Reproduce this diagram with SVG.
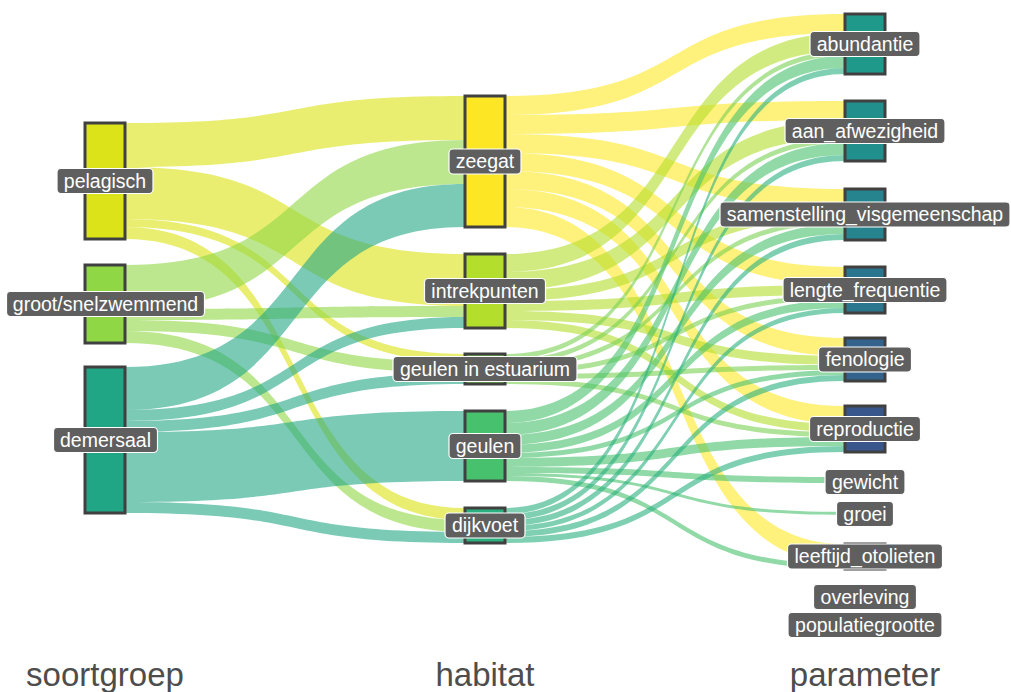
<svg xmlns="http://www.w3.org/2000/svg" width="1011" height="692" viewBox="0 0 1011 692">
<style>
.n{stroke:#404040;stroke-width:3}
.lb rect{fill:#5F5F5F;stroke:#fff;stroke-width:1.2}
.lb text{fill:#fff;font-family:"Liberation Sans",Arial,sans-serif;font-size:19.5px;text-anchor:middle}
.ax{fill:#4D4D4D;font-family:"Liberation Sans",Arial,sans-serif;font-size:33px;text-anchor:middle}
.fp{fill:#DCE319;fill-opacity:.62}
.fg{fill:#8FD744;fill-opacity:.6}
.fd{fill:#21A685;fill-opacity:.6}
.fz{fill:#FDE725;fill-opacity:.6}
.fi{fill:#B4DE2C;fill-opacity:.6}
.fe{fill:#7AD151;fill-opacity:.6}
.fu{fill:#48C16E;fill-opacity:.6}
.fk{fill:#2AB07F;fill-opacity:.6}
</style>
<rect width="1011" height="692" fill="#fff"/>
<g id="connectors">
<path class="fp" d="M125,123C322,123 268,96 465,96L465,140C268,140 322,167 125,167Z"/>
<path class="fp" d="M125,167C322,167 268,254 465,254L465,306C268,306 322,219 125,219Z"/>
<path class="fp" d="M125,219C322,219 268,354 465,354L465,362C268,362 322,227 125,227Z"/>
<path class="fp" d="M125,227C322,227 268,508 465,508L465,520C268,520 322,239 125,239Z"/>
<path class="fg" d="M125,265C322,265 268,140 465,140L465,184C268,184 322,309 125,309Z"/>
<path class="fg" d="M125,309C322,309 268,306 465,306L465,317C268,317 322,320 125,320Z"/>
<path class="fg" d="M125,320C322,320 268,362 465,362L465,373C268,373 322,331 125,331Z"/>
<path class="fg" d="M125,331C322,331 268,520 465,520L465,532C268,532 322,343 125,343Z"/>
<path class="fd" d="M125,367C322,367 268,184 465,184L465,227C268,227 322,410 125,410Z"/>
<path class="fd" d="M125,410C322,410 268,317 465,317L465,328C268,328 322,421 125,421Z"/>
<path class="fd" d="M125,421C322,421 268,373 465,373L465,384C268,384 322,432 125,432Z"/>
<path class="fd" d="M125,432C322,432 268,411 465,411L465,481C268,481 322,502 125,502Z"/>
<path class="fd" d="M125,502C322,502 268,532 465,532L465,543C268,543 322,513 125,513Z"/>

<path class="fz" d="M505,96C702,96 648,14 845,14L845,33C648,33 702,115 505,115Z"/>
<path class="fz" d="M505,115C702,115 648,101 845,101L845,120C648,120 702,134 505,134Z"/>
<path class="fz" d="M505,134C702,134 648,189 845,189L845,208C648,208 702,153 505,153Z"/>
<path class="fz" d="M505,153C702,153 648,267 845,267L845,285C648,285 702,171 505,171Z"/>
<path class="fz" d="M505,171C702,171 648,338 845,338L845,356C648,356 702,189 505,189Z"/>
<path class="fz" d="M505,189C702,189 648,406 845,406L845,424C648,424 702,207 505,207Z"/>
<path class="fz" d="M505,207C702,207 648,544 845,544L845,564C648,564 702,227 505,227Z"/>

<path class="fi" d="M505,254C702,254 648,33 845,33L845,51C648,51 702,272 505,272Z"/>
<path class="fi" d="M505,272C702,272 648,120 845,120L845,138C648,138 702,290 505,290Z"/>
<path class="fi" d="M505,290C702,290 648,208 845,208L845,219C648,219 702,301 505,301Z"/>
<path class="fi" d="M505,301C702,301 648,285 845,285L845,295C648,295 702,311 505,311Z"/>
<path class="fi" d="M505,311C702,311 648,356 845,356L845,365C648,365 702,320 505,320Z"/>
<path class="fi" d="M505,320C702,320 648,424 845,424L845,432C648,432 702,328 505,328Z"/>

<path class="fe" d="M505,354C702,354 648,51 845,51L845,56C648,56 702,359 505,359Z"/>
<path class="fe" d="M505,359C702,359 648,138 845,138L845,143C648,143 702,364 505,364Z"/>
<path class="fe" d="M505,364C702,364 648,219 845,219L845,224C648,224 702,369 505,369Z"/>
<path class="fe" d="M505,369C702,369 648,295 845,295L845,300C648,300 702,374 505,374Z"/>
<path class="fe" d="M505,374C702,374 648,365 845,365L845,370C648,370 702,379 505,379Z"/>
<path class="fe" d="M505,379C702,379 648,432 845,432L845,437C648,437 702,384 505,384Z"/>

<path class="fu" d="M505,411C702,411 648,56 845,56L845,68C648,68 702,423 505,423Z"/>
<path class="fu" d="M505,423C702,423 648,143 845,143L845,155C648,155 702,435 505,435Z"/>
<path class="fu" d="M505,435C702,435 648,224 845,224L845,234C648,234 702,445 505,445Z"/>
<path class="fu" d="M505,445C702,445 648,300 845,300L845,308C648,308 702,453 505,453Z"/>
<path class="fu" d="M505,453C702,453 648,370 845,370L845,375C648,375 702,458 505,458Z"/>
<path class="fu" d="M505,458C702,458 648,437 845,437L845,446C648,446 702,467 505,467Z"/>
<path class="fu" d="M505,467C702,467 648,477 845,477L845,483C648,483 702,473 505,473Z"/>
<path class="fu" d="M505,473C702,473 648,512 845,512L845,515C648,515 702,476 505,476Z"/>
<path class="fu" d="M505,476C702,476 648,564 845,564L845,569C648,569 702,481 505,481Z"/>

<path class="fk" d="M505,508C702,508 648,68 845,68L845,74C648,74 702,514 505,514Z"/>
<path class="fk" d="M505,514C702,514 648,155 845,155L845,161C648,161 702,520 505,520Z"/>
<path class="fk" d="M505,520C702,520 648,234 845,234L845,240C648,240 702,526 505,526Z"/>
<path class="fk" d="M505,526C702,526 648,308 845,308L845,313C648,313 702,531 505,531Z"/>
<path class="fk" d="M505,531C702,531 648,375 845,375L845,381C648,381 702,537 505,537Z"/>
<path class="fk" d="M505,537C702,537 648,446 845,446L845,452C648,452 702,543 505,543Z"/>
</g>

<g id="pelagisch"><rect class="n" x="85" y="123" width="40" height="116" fill="#DCE319"/>
<g class="lb"><rect x="57" y="168.5" width="96" height="25" rx="4"/><text x="105" y="187.5">pelagisch</text></g></g>
<g id="groot-snelzwemmend"><rect class="n" x="85" y="265" width="40" height="78" fill="#8FD744"/>
<g class="lb"><rect x="6.5" y="291.5" width="198" height="25" rx="4"/><text x="105.5" y="310.5">groot/snelzwemmend</text></g></g>
<g id="demersaal"><rect class="n" x="85" y="367" width="40" height="146" fill="#21A685"/>
<g class="lb"><rect x="53.5" y="427.5" width="104" height="25" rx="4"/><text x="105.5" y="446.5">demersaal</text></g></g>

<g id="zeegat"><rect class="n" x="465" y="96" width="40" height="131" fill="#FDE725"/>
<g class="lb"><rect x="449" y="149" width="72" height="25" rx="4"/><text x="485" y="168">zeegat</text></g></g>
<g id="intrekpunten"><rect class="n" x="465" y="254" width="40" height="74" fill="#B4DE2C"/>
<g class="lb"><rect x="424.5" y="278.5" width="121" height="25" rx="4"/><text x="485" y="297.5">intrekpunten</text></g></g>
<g id="geulen-in-estuarium"><rect class="n" x="465" y="354" width="40" height="30" fill="#7AD151"/>
<g class="lb"><rect x="393" y="356.5" width="184" height="25" rx="4"/><text x="485" y="375.5">geulen in estuarium</text></g></g>
<g id="geulen"><rect class="n" x="465" y="411" width="40" height="70" fill="#48C16E"/>
<g class="lb"><rect x="449" y="433.5" width="72" height="25" rx="4"/><text x="485" y="452.5">geulen</text></g></g>
<g id="dijkvoet"><rect class="n" x="465" y="508" width="40" height="35" fill="#2AB07F"/>
<g class="lb"><rect x="445" y="513" width="80" height="25" rx="4"/><text x="485" y="532">dijkvoet</text></g></g>

<g id="abundantie"><rect class="n" x="845" y="14" width="40" height="60" fill="#1F9A8A"/>
<g class="lb"><rect x="810" y="31.5" width="110" height="25" rx="4"/><text x="865" y="50.5">abundantie</text></g></g>
<g id="aan_afwezigheid"><rect class="n" x="845" y="101" width="40" height="60" fill="#21908D"/>
<g class="lb"><rect x="785" y="118.5" width="160" height="25" rx="4"/><text x="865" y="137.5">aan_afwezigheid</text></g></g>
<g id="samenstelling_visgemeenschap"><rect class="n" x="845" y="189" width="40" height="51" fill="#25848E"/>
<g class="lb"><rect x="720" y="202" width="290" height="25" rx="4"/><text x="865" y="221">samenstelling_visgemeenschap</text></g></g>
<g id="lengte_frequentie"><rect class="n" x="845" y="267" width="40" height="46" fill="#2A768E"/>
<g class="lb"><rect x="783" y="277.5" width="164" height="25" rx="4"/><text x="865" y="296.5">lengte_frequentie</text></g></g>
<g id="fenologie"><rect class="n" x="845" y="338" width="40" height="43" fill="#33638D"/>
<g class="lb"><rect x="818.5" y="347" width="93" height="25" rx="4"/><text x="865" y="366">fenologie</text></g></g>
<g id="reproductie"><rect class="n" x="845" y="406" width="40" height="46" fill="#39568C"/>
<g class="lb"><rect x="809.5" y="416.5" width="111" height="25" rx="4"/><text x="865" y="435.5">reproductie</text></g></g>
<g id="gewicht"><rect class="n" x="845" y="477" width="40" height="6" fill="#3F4889"/>
<g class="lb"><rect x="825" y="469.5" width="80" height="25" rx="4"/><text x="865" y="488.5">gewicht</text></g></g>
<g id="groei"><rect class="n" x="845" y="512" width="40" height="3" fill="#443A83"/>
<g class="lb"><rect x="836.5" y="501.5" width="57" height="25" rx="4"/><text x="865" y="520.5">groei</text></g></g>
<g id="leeftijd_otolieten"><rect class="n" x="845" y="544" width="40" height="25" fill="#472D7B"/>
<g class="lb"><rect x="787.5" y="544" width="155" height="25" rx="4"/><text x="865" y="563">leeftijd_otolieten</text></g></g>
<g id="overleving">
<g class="lb"><rect x="813.5" y="584.5" width="103" height="25" rx="4"/><text x="865" y="603.5">overleving</text></g></g>
<g id="populatiegrootte">
<g class="lb"><rect x="788" y="612.5" width="154" height="25" rx="4"/><text x="865" y="631.5">populatiegrootte</text></g></g>

<g id="axis-titles">
<text class="ax" x="105" y="686">soortgroep</text>
<text class="ax" x="485" y="686">habitat</text>
<text class="ax" x="865" y="686">parameter</text>
</g>
</svg>
